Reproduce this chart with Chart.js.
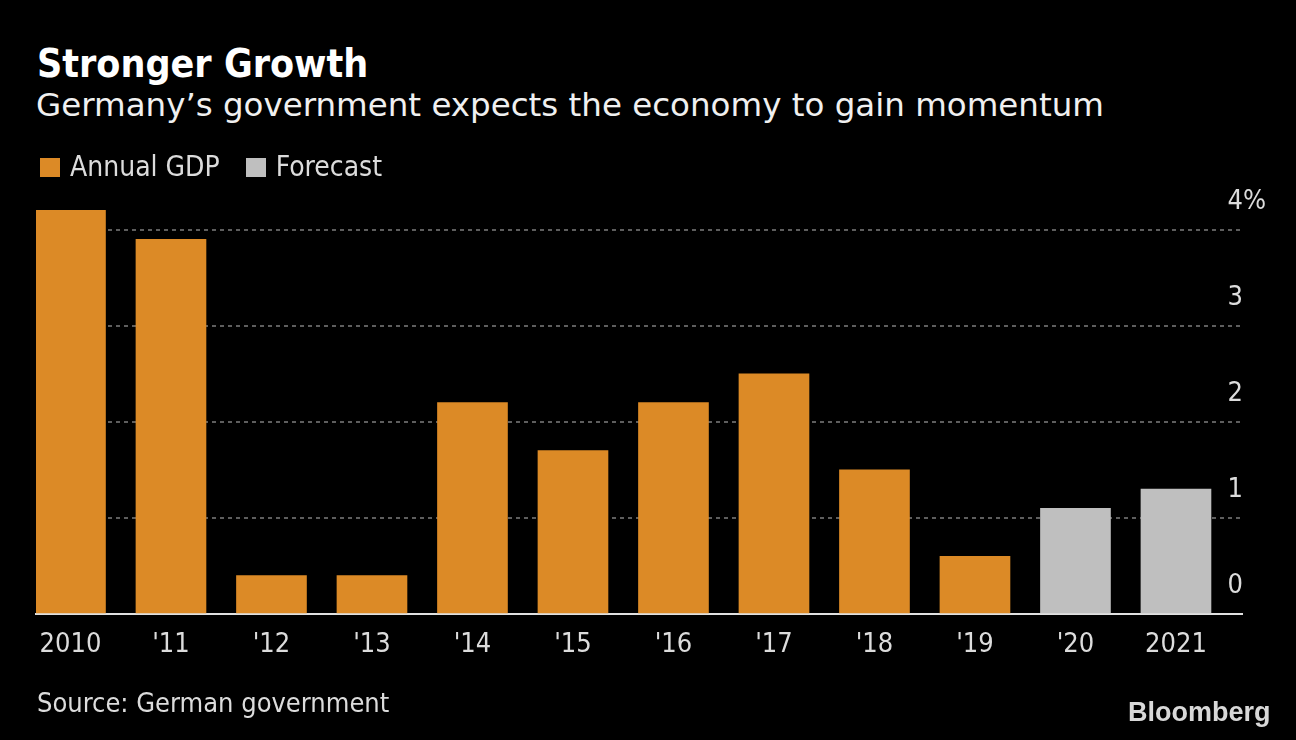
<!DOCTYPE html>
<html>
<head>
<meta charset="utf-8">
<title>Stronger Growth</title>
<script src="https://cdn.jsdelivr.net/npm/chart.js@4.4.0/dist/chart.umd.min.js"></script>
<style>
  html, body { margin: 0; padding: 0; background: #000; }
  body {
    width: 1296px; height: 740px; position: relative; overflow: hidden;
    font-family: 'DejaVu Sans Condensed', 'DejaVu Sans', sans-serif;
    color: #dcdcdc;
  }
  .txt { position: absolute; white-space: nowrap; line-height: 1; z-index: 2; }
  .title { left: 37px; top: 44px; font-size: 39px; font-weight: bold; color: #fff; }
  .subtitle { left: 36px; top: 89.3px; font-size: 32.5px; color: #f0f0f0; font-family: 'DejaVu Sans', sans-serif; }
  .legend { left: 40px; top: 153px; font-size: 28px; display: flex; align-items: center; }
  .legend .sw { width: 20px; height: 19px; margin-right: 10px; }
  .legend .item { display: flex; align-items: center; margin-right: 26px; }
  .source { left: 37px; top: 689px; font-size: 27px; }
  .logo { left: 1128px; top: 699px; font-family: 'Liberation Sans', Arial, sans-serif; font-weight: bold; font-size: 27px; color: #d8d8d8; }
  #wrap { position: absolute; left: 0; top: 151px; width: 1296px; height: 589px; z-index: 1; }
</style>
</head>
<body>
<div class="txt title">Stronger Growth</div>
<div class="txt subtitle">Germany’s government expects the economy to gain momentum</div>
<div class="txt legend">
  <div class="item"><span class="sw" style="background:#dc8a26"></span>Annual GDP</div>
  <div class="item"><span class="sw" style="background:#bfbfbf"></span>Forecast</div>
</div>
<div id="wrap"><canvas id="gdpChart"></canvas></div>
<div class="txt source">Source: German government</div>
<div class="txt logo">Bloomberg</div>
<script>
// ── Data ──
const years = ['2010', "'11", "'12", "'13", "'14", "'15", "'16", "'17", "'18", "'19", "'20", '2021'];
const annualGdp = [4.2, 3.9, 0.4, 0.4, 2.2, 1.7, 2.2, 2.5, 1.5, 0.6];
const forecast = [1.1, 1.3];
const yTicks = [0, 1, 2, 3, 4];

const ORANGE = '#dc8a26';
const GREY = '#bfbfbf';

Chart.defaults.font.family = "'DejaVu Sans Condensed', 'DejaVu Sans', sans-serif";
Chart.defaults.color = '#dcdcdc';

// ── GDP bars: linear x so each bar sits at the left of its slot ──
const ctx = document.getElementById('gdpChart');
new Chart(ctx, {
  type: 'bar',
  data: {
    datasets: [
      {
        label: 'Annual GDP',
        data: annualGdp.map((v, i) => ({ x: i, y: v })),
        backgroundColor: ORANGE
      },
      {
        label: 'Forecast',
        data: forecast.map((v, i) => ({ x: annualGdp.length + i, y: v })),
        backgroundColor: GREY
      }
    ]
  },
  options: {
    responsive: true,
    maintainAspectRatio: false,
    animation: false,
    grouped: false,
    barThickness: 70,
    layout: { padding: { left: 36, right: 6, top: 0, bottom: 71.6 } },
    plugins: {
      legend: { display: false },
      tooltip: { enabled: false }
    },
    scales: {
      x: {
        type: 'linear',
        position: 'bottom',
        offset: false,
        bounds: 'data',
        min: -0.343,
        max: 11.657,
        afterBuildTicks: s => { s.ticks = years.map((_, i) => ({ value: i })); },
        grid: { display: false },
        border: { display: true, color: '#e0e0e0', width: 2 },
        ticks: {
          autoSkip: false,
          maxRotation: 0,
          padding: 7,
          color: '#dcdcdc',
          font: { size: 27 },
          callback: v => years[v]
        }
      },
      y: {
        position: 'right',
        min: 0,
        max: 4.4,
        afterBuildTicks: s => { s.ticks = yTicks.map(v => ({ value: v })); },
        grid: {
          drawTicks: false,
          lineWidth: 2,
          color: c => (c.tick && c.tick.value === 0) ? 'rgba(0,0,0,0)' : '#5e5e5e'
        },
        border: { display: false, dash: [4, 4] },
        ticks: {
          mirror: true,
          crossAlign: 'far',
          padding: 24,
          labelOffset: -28,
          color: '#dcdcdc',
          font: { size: 27 },
          callback: v => v === 4 ? '4%' : v
        }
      }
    }
  }
});
</script>
</body>
</html>
